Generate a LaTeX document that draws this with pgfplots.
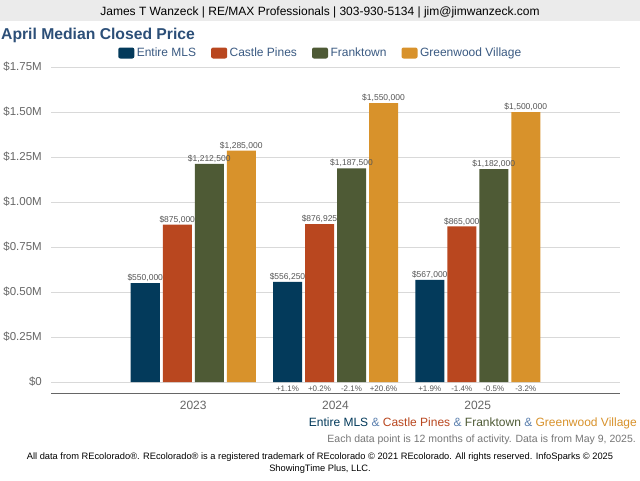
\documentclass[border=0pt]{standalone}
\usepackage{pgfplots}
\pgfplotsset{compat=1.18}
\usepackage{fontspec}
\setmainfont{Liberation Sans}
\definecolor{cMLS}{HTML}{033A5B}
\definecolor{cCP}{HTML}{B9471F}
\definecolor{cFT}{HTML}{4E5A35}
\definecolor{cGV}{HTML}{D8922B}
\definecolor{titlec}{HTML}{2C4F78}
\definecolor{legc}{HTML}{3A5A82}
\definecolor{ampc}{HTML}{5A7FAE}
\definecolor{hdr}{HTML}{EBEBEB}
\definecolor{gridc}{HTML}{D9D9D9}
\definecolor{axisc}{HTML}{666666}
\definecolor{tickc}{HTML}{666666}
\definecolor{valc}{HTML}{555555}
\definecolor{notec}{HTML}{777777}

\pgfplotstableread{
x y
0 550000
1 556250
2 567000
}\mls
\pgfplotstableread{
x y
0 875000
1 876925
2 865000
}\cp
\pgfplotstableread{
x y
0 1212500
1 1187500
2 1182000
}\ft
\pgfplotstableread{
x y
0 1285000
1 1550000
2 1500000
}\gv

\begin{document}
\begin{tikzpicture}[x=1pt,y=1pt]
\useasboundingbox (0,0) rectangle (640,480);
\fill[white] (0,0) rectangle (640,480);
\fill[hdr] (0,459) rectangle (640,480);
\node[font=\fontsize{12}{14}\selectfont, inner sep=0] at (320,468) {James T Wanzeck | RE/MAX Professionals | 303-930-5134 | jim@jimwanzeck.com};
\node[anchor=base west, font=\fontsize{15.7}{18}\selectfont\bfseries, text=titlec, inner sep=0] at (1,440) {April Median Closed Price};

\begin{axis}[
  at={(51pt,87pt)}, anchor=south west, scale only axis,
  width=569pt, height=326pt,
  xmin=-1, xmax=3, ymin=-61000, ymax=1750000,
  ybar=3pt, bar width=29pt,
  axis line style={draw=none},
  ymajorgrids, grid style={gridc, line width=0.9pt},
  major tick length=0pt,
  scaled y ticks=false,
  ytick={0,250000,500000,750000,1000000,1250000,1500000,1750000},
  yticklabels={\$0,\$0.25M,\$0.50M,\$0.75M,\$1.00M,\$1.25M,\$1.50M,\$1.75M},
  yticklabel style={font=\fontsize{11.5}{13}\selectfont, text=tickc, inner sep=0pt, xshift=-9pt},
  xtick={0,1,2}, xticklabels={2023,2024,2025},
  xticklabel style={font=\fontsize{12}{14}\selectfont, text=tickc, inner sep=0pt, yshift=-7.5pt},
  clip=false,
  nodes near coords={\$\pgfmathprintnumber[fixed,precision=0,1000 sep={,},assume math mode=true]{\pgfplotspointmeta}},
  every node near coord/.append style={font=\fontsize{8.5}{9}\selectfont, text=valc, inner sep=1pt, anchor=south},
  legend columns=4,
  legend style={at={(0.4745,1)}, anchor=center, yshift=14pt, draw=none, fill=none,
    font=\fontsize{12}{14}\selectfont, text=legc, inner sep=0pt,
    nodes={inner sep=2.5pt},
    /tikz/every even column/.append style={column sep=12.5pt}},
  legend image code/.code={\fill[#1, draw=none, rounded corners=2pt] (0pt,-5.5pt) rectangle (16pt,5.5pt);},
]
\addplot[fill=cMLS, draw=none] table[x=x,y=y] {\mls};
\addlegendentry{Entire MLS}
\addplot[fill=cCP, draw=none] table[x=x,y=y] {\cp};
\addlegendentry{Castle Pines}
\addplot[fill=cFT, draw=none] table[x=x,y=y] {\ft};
\addlegendentry{Franktown}
\addplot[fill=cGV, draw=none] table[x=x,y=y] {\gv};
\addlegendentry{Greenwood Village}
\draw[axisc, line width=1pt] (rel axis cs:0,0) -- (rel axis cs:1,0);
\tikzset{pct/.style={font=\fontsize{8}{9}\selectfont, text=valc, inner sep=0pt, yshift=-7pt}}
\node[pct, xshift=-48pt] at (axis cs:1,0) {+1.1\%};
\node[pct, xshift=-16pt] at (axis cs:1,0) {+0.2\%};
\node[pct, xshift=16pt] at (axis cs:1,0) {-2.1\%};
\node[pct, xshift=48pt] at (axis cs:1,0) {+20.6\%};
\node[pct, xshift=-48pt] at (axis cs:2,0) {+1.9\%};
\node[pct, xshift=-16pt] at (axis cs:2,0) {-1.4\%};
\node[pct, xshift=16pt] at (axis cs:2,0) {-0.5\%};
\node[pct, xshift=48pt] at (axis cs:2,0) {-3.2\%};
\end{axis}

\node[anchor=base east, inner sep=0, font=\fontsize{12}{14}\selectfont] at (637,54) {\textcolor{cMLS}{Entire MLS} \textcolor{ampc}{\&} \textcolor{cCP}{Castle Pines} \textcolor{ampc}{\&} \textcolor{cFT}{Franktown} \textcolor{ampc}{\&} \textcolor{cGV}{Greenwood Village}};
\node[anchor=base east, inner sep=0, font=\fontsize{10.5}{13}\selectfont, text=notec] at (636,38) {Each data point is 12 months of activity. Data is from May 9, 2025.};
\node[align=center, inner sep=0, font=\fontsize{9.3}{12}\selectfont] at (320,16.5) {All data from REcolorado®. REcolorado® is a registered trademark of REcolorado © 2021 REcolorado. All rights reserved. InfoSparks © 2025\\ShowingTime Plus, LLC.};
\end{tikzpicture}
\end{document}
